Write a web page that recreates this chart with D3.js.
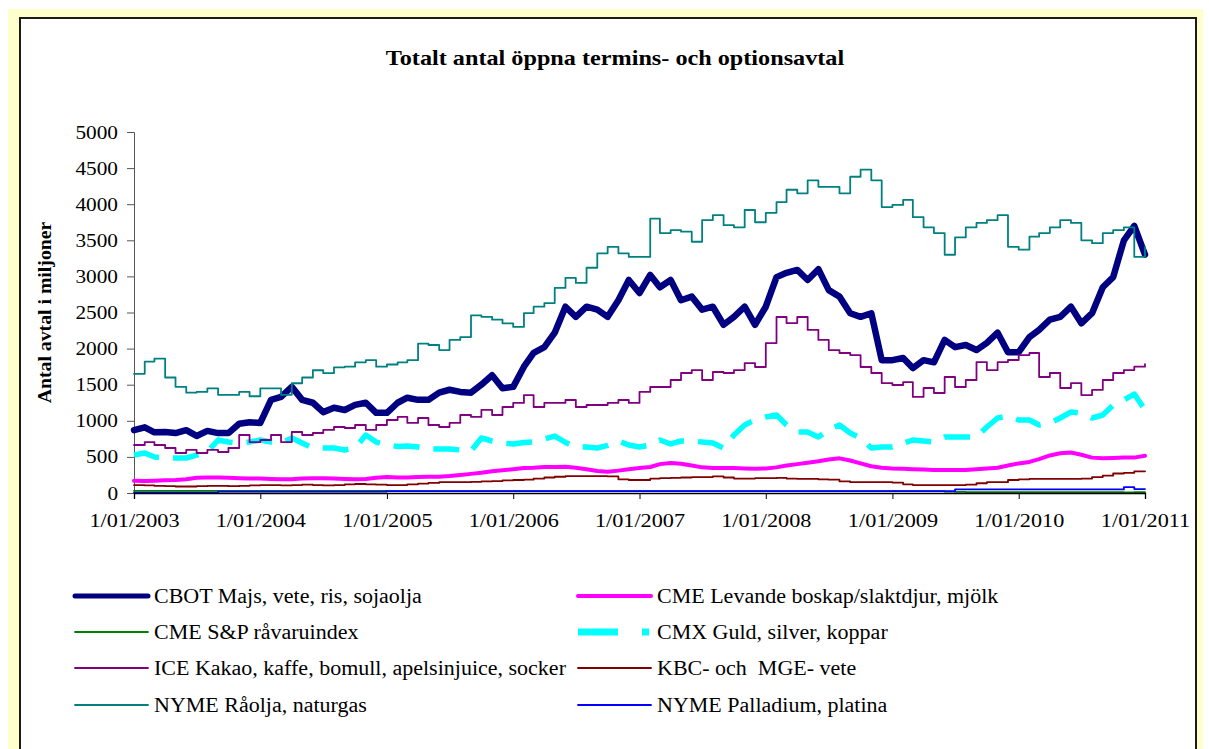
<!DOCTYPE html>
<html>
<head>
<meta charset="utf-8">
<script src="https://cdn.jsdelivr.net/npm/d3@7"></script>
<style>
body { margin: 0; background: #fff; }
svg { display: block; font-family: "Liberation Serif", "Times New Roman", serif; }
</style>
</head>
<body>
<div id="chart"></div>
<script>
// monthly readings, Jan 2003 .. Jan 2011 (97 values each)
var cbot = [
  870, 910, 840, 845, 830, 870, 790, 860, 830, 830, 960, 980,
  970, 1290, 1330, 1470, 1290, 1250, 1120, 1180, 1150, 1220, 1250, 1110,
  1110, 1250, 1320, 1290, 1290, 1390, 1430, 1400, 1390, 1500, 1630, 1450,
  1470, 1750, 1940, 2020, 2220, 2580, 2440, 2580, 2540, 2440, 2670, 2950,
  2770, 3020, 2850, 2950, 2670, 2720, 2540, 2580, 2330, 2440, 2580, 2330,
  2580, 2990, 3050, 3090, 2950, 3100, 2810, 2720, 2490, 2440, 2490, 1840,
  1840, 1870, 1730, 1840, 1810, 2120, 2020, 2050, 1980, 2080, 2220, 1950,
  1950, 2160, 2260, 2400, 2440, 2580, 2350, 2490, 2850, 2990, 3500, 3700,
  3300
]
var cmeLive = [
  170, 165, 170, 175, 180, 190, 210, 215, 215, 210, 205, 200,
  200, 195, 190, 190, 200, 205, 205, 200, 195, 190, 195, 210,
  220, 215, 215, 220, 225, 225, 235, 250, 265, 280, 300, 315,
  330, 345, 350, 360, 360, 365, 350, 330, 305, 295, 310, 330,
  345, 360, 400, 415, 405, 380, 355, 345, 345, 345, 340, 335,
  340, 355, 380, 400, 420, 440, 465, 480, 450, 410, 370, 350,
  340, 335, 330, 325, 320, 320, 320, 320, 330, 340, 350, 380,
  410, 430, 470, 520, 550, 560, 530, 490, 480, 485, 490, 490,
  515
]
var cmeSp = [
  30, 30, 30, 30, 30, 30, 30, 30, 28, 28, 28, 28,
  28, 28, 28, 28, 28, 28, 28, 28, 28, 28, 28, 28,
  25, 25, 25, 25, 25, 25, 25, 25, 25, 25, 25, 25,
  25, 25, 25, 25, 25, 25, 25, 25, 25, 25, 25, 25,
  25, 25, 25, 25, 25, 25, 25, 25, 25, 25, 25, 25,
  25, 25, 25, 25, 25, 25, 25, 25, 25, 25, 25, 25,
  25, 25, 25, 25, 25, 20, 15, 12, 12, 12, 12, 12,
  12, 12, 12, 12, 12, 12, 12, 12, 12, 12, 10, 12,
  12
]
var cmx = [
  526, 554, 499, 485, 485, 485, 526, 568, 734, 706, 692, 706,
  734, 706, 692, 762, 692, 623, 623, 623, 596, 623, 803, 706,
  665, 645, 651, 637, 609, 609, 609, 596, 582, 762, 720, 692,
  679, 700, 706, 748, 789, 700, 637, 637, 623, 660, 720, 665,
  637, 665, 734, 679, 720, 720, 706, 692, 623, 803, 942, 1011,
  1053, 1080, 942, 845, 845, 776, 873, 942, 831, 762, 623, 637,
  637, 692, 734, 720, 706, 776, 776, 776, 776, 914, 1039, 1066,
  1011, 1011, 942, 970, 1039, 1122, 1108, 1039, 1080, 1219, 1288, 1371,
  1150
]
var ice = [
  665, 706, 665, 623, 554, 596, 554, 596, 568, 623, 803, 706,
  734, 803, 706, 845, 803, 831, 873, 914, 900, 942, 873, 942,
  1011, 1053, 970, 1039, 942, 914, 970, 1080, 1053, 1150, 1080, 1191,
  1247, 1357, 1191, 1247, 1247, 1288, 1191, 1219, 1219, 1247, 1288, 1247,
  1400, 1468, 1468, 1565, 1662, 1703, 1565, 1676, 1662, 1703, 1800, 1745,
  2077, 2438, 2354, 2438, 2258, 2120, 1980, 1939, 1911, 1745, 1662, 1523,
  1496, 1537, 1330, 1454, 1385, 1607, 1468, 1565, 1814, 1703, 1814, 1842,
  1911, 1939, 1607, 1662, 1454, 1523, 1357, 1427, 1565, 1662, 1703, 1750,
  1786
]
var kbc = [
  110, 105, 100, 95, 90, 90, 95, 100, 100, 95, 100, 105,
  110, 110, 105, 110, 115, 110, 105, 110, 120, 125, 120, 115,
  110, 110, 120, 130, 140, 150, 150, 150, 155, 160, 165, 175,
  180, 185, 200, 215, 225, 235, 235, 235, 235, 230, 190, 180,
  180, 200, 205, 210, 215, 220, 220, 230, 215, 200, 200, 205,
  205, 210, 200, 195, 195, 190, 185, 160, 150, 150, 150, 150,
  145, 120, 110, 110, 110, 110, 110, 115, 135, 150, 150, 180,
  190, 195, 195, 195, 195, 195, 200, 220, 240, 270, 280, 300,
  300
]
var nymeOil = [
  1650, 1820, 1860, 1600, 1470, 1390, 1400, 1450, 1360, 1360, 1400, 1340,
  1450, 1450, 1360, 1520, 1600, 1700, 1660, 1740, 1750, 1810, 1840, 1750,
  1780, 1810, 1840, 2070, 2050, 1980, 2120, 2160, 2460, 2440, 2400, 2350,
  2300, 2490, 2580, 2630, 2840, 2980, 2910, 3120, 3320, 3410, 3320, 3270,
  3270, 3800, 3600, 3640, 3620, 3480, 3780, 3850, 3710, 3680, 3920, 3750,
  3880, 4030, 4200, 4150, 4330, 4240, 4240, 4150, 4380, 4480, 4330, 3960,
  3990, 4060, 3820, 3680, 3600, 3300, 3540, 3680, 3740, 3780, 3850, 3410,
  3370, 3550, 3600, 3680, 3780, 3740, 3500, 3460, 3600, 3640, 3680, 3270,
  3410
]
var nymePall = [
  5, 5, 5, 5, 5, 5, 5, 5, 18, 18, 18, 18,
  20, 20, 20, 20, 20, 20, 20, 20, 20, 20, 20, 20,
  25, 25, 25, 25, 25, 25, 25, 25, 25, 25, 25, 25,
  25, 25, 25, 25, 25, 25, 25, 25, 25, 25, 25, 25,
  25, 25, 25, 25, 25, 25, 25, 25, 25, 25, 25, 25,
  25, 25, 25, 25, 25, 25, 25, 25, 25, 25, 25, 25,
  25, 25, 25, 25, 25, 25, 50, 50, 50, 50, 50, 50,
  50, 50, 50, 50, 50, 50, 50, 50, 50, 50, 80, 55,
  55
]

var yTicks = [0, 500, 1000, 1500, 2000, 2500, 3000, 3500, 4000, 4500, 5000]
var xTickYears = [2003, 2004, 2005, 2006, 2007, 2008, 2009, 2010, 2011]

var months = d3.timeMonth.range(new Date(2003, 0, 1), new Date(2011, 0, 2))

var series = [
  {name: "CBOT Majs, vete, ris, sojaolja", values: cbot, color: "#000080", width: 6.5, curve: d3.curveLinear},
  {name: "CME Levande boskap/slaktdjur, mjölk", values: cmeLive, color: "#FF00FF", width: 4, curve: d3.curveLinear},
  {name: "CME S&P råvaruindex", values: cmeSp, color: "#008000", width: 1.8, curve: d3.curveStepAfter},
  {name: "CMX Guld, silver, koppar", values: cmx, color: "#00FFFF", width: 5.5, curve: d3.curveLinear, dash: "26,14", legendDash: "40,24,7,40"},
  {name: "ICE Kakao, kaffe, bomull, apelsinjuice, socker", values: ice, color: "#800080", width: 1.8, curve: d3.curveStepAfter},
  {name: "KBC- och  MGE- vete", values: kbc, color: "#800000", width: 1.8, curve: d3.curveStepAfter},
  {name: "NYME Råolja, naturgas", values: nymeOil, color: "#008080", width: 1.8, curve: d3.curveStepAfter},
  {name: "NYME Palladium, platina", values: nymePall, color: "#0000FF", width: 1.8, curve: d3.curveStepAfter}
]

var W = 1209, H = 749
var margin = {top: 132, left: 134, right: 64, bottom: 256}
var serif = '"Liberation Serif", "Times New Roman", serif'

var svg = d3.select("#chart").append("svg")
  .attr("width", W)
  .attr("height", H)

// frame
svg.append("rect").attr("x", 8).attr("y", 9).attr("width", 1195).attr("height", 760).attr("fill", "#FFFFCC")
svg.append("rect").attr("x", 20).attr("y", 18).attr("width", 1176).attr("height", 760)
  .attr("fill", "#fff").attr("stroke", "#1a1a1a").attr("stroke-width", 2)

// stretch text a little wider, like the original export
function widen(sel, k) {
  sel.each(function() {
    var w = this.getComputedTextLength()
    d3.select(this).attr("textLength", w * k).attr("lengthAdjust", "spacingAndGlyphs")
  })
}

var x = d3.scaleTime()
  .domain([new Date(2003, 0, 1), new Date(2011, 0, 1)])
  .range([margin.left, W - margin.right])

var y = d3.scaleLinear()
  .domain([0, 5000])
  .range([H - margin.bottom, margin.top])

// title
svg.append("text")
  .attr("x", 615).attr("y", 65)
  .attr("text-anchor", "middle")
  .style("font-family", serif)
  .style("font-size", "22px").style("font-weight", "bold")
  .text("Totalt antal öppna termins- och optionsavtal")
  .call(widen, 1.1)

// y label
svg.append("text")
  .attr("transform", "translate(51," + ((y(0) + y(5000)) / 2) + ") rotate(-90)")
  .attr("text-anchor", "middle")
  .style("font-family", serif)
  .style("font-size", "19px").style("font-weight", "bold")
  .text("Antal avtal i miljoner")
  .call(widen, 1.04)

// axes
var yAxis = d3.axisLeft(y).tickValues(yTicks).tickSize(7).tickPadding(9).tickFormat(d3.format("d"))
var gy = svg.append("g").attr("transform", "translate(" + margin.left + ",0)").call(yAxis)
  .attr("font-family", null).attr("font-size", null)
gy.selectAll("text").style("font-family", serif).style("font-size", "19px").style("fill", "#000").call(widen, 1.12)

var fmt = d3.timeFormat("%-m/%d/%Y")
var xAxis = d3.axisBottom(x)
  .tickValues(xTickYears.map(function(yr) { return new Date(yr, 0, 1) }))
  .tickSize(6).tickPadding(15)
  .tickFormat(fmt)
var gx = svg.append("g").attr("transform", "translate(0," + y(0) + ")").call(xAxis)
  .attr("font-family", null).attr("font-size", null)
gx.selectAll("text").style("font-family", serif).style("font-size", "19px").style("fill", "#000").call(widen, 1.17)

gy.select(".domain").attr("stroke", "#555")
gy.selectAll(".tick line").attr("stroke", "#555")

// lines
series.forEach(function(s) {
  var line = d3.line()
    .x(function(d, i) { return x(months[i]) })
    .y(function(d) { return y(d) })
    .curve(s.curve)
  svg.append("path")
    .datum(s.values)
    .attr("d", line)
    .attr("fill", "none")
    .attr("stroke", s.color)
    .attr("stroke-width", s.width)
    .attr("stroke-linejoin", "round")
    .attr("stroke-linecap", s.dash ? "butt" : "round")
    .attr("stroke-dasharray", s.dash || null)
})

gx.select(".domain").attr("stroke", "#000").attr("stroke-width", 1.3)
gx.raise()

// legend
var legend = svg.append("g")
var cols = [75, 578], rows = [596, 632, 668, 705]
series.forEach(function(s, i) {
  var lx = cols[i % 2], ly = rows[Math.floor(i / 2)]
  legend.append("line")
    .attr("x1", lx).attr("x2", lx + 73)
    .attr("y1", ly).attr("y2", ly)
    .attr("stroke", s.color)
    .attr("stroke-width", s.dash ? 7 : Math.min(s.width, 5))
    .attr("stroke-linecap", s.dash ? "butt" : "round")
    .attr("stroke-dasharray", s.legendDash || null)
  legend.append("text")
    .attr("x", lx + 79).attr("y", ly)
    .attr("dy", "0.33em")
    .style("font-family", serif)
    .style("font-size", "20px")
    .style("white-space", "pre")
    .text(s.name)
    .call(widen, 1.1)
})
</script>
</body>
</html>
